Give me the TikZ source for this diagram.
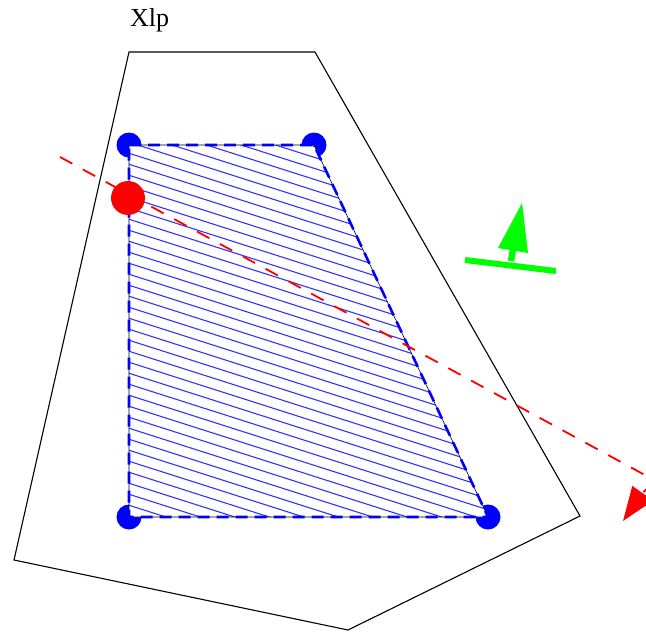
\documentclass[tikz,border=0pt]{standalone}
\usepackage{fontspec}
\setmainfont{Liberation Serif}
\usetikzlibrary{arrows.meta}
\begin{document}
\begin{tikzpicture}[x=1pt,y=-1pt,
  outer/.style={draw=black,line width=1.1pt,line join=miter},
  hatchline/.style={draw=blue!80,line width=1.1pt},
  trapborder/.style={draw=blue,line width=2.6pt,dash pattern=on 12pt off 7pt},
  blueDot/.style={fill=blue},
  redDot/.style={fill=red},
  redpath/.style={draw=red,line width=1.8pt,dash pattern=on 14pt off 12pt},
  greenbar/.style={draw=green,line width=6pt},
]
\useasboundingbox (0,0) rectangle (646,632);
% coordinates
\coordinate (o1) at (129,52);
\coordinate (o2) at (315,52);
\coordinate (o3) at (580,516);
\coordinate (o4) at (348,630);
\coordinate (o5) at (14,560);
\coordinate (t1) at (129,145);
\coordinate (t2) at (314,145);
\coordinate (t3) at (488,517);
\coordinate (t4) at (129,517);
% outer polygon
\draw[outer] (o1) -- (o2) -- (o3) -- (o4) -- (o5) -- cycle;
% label
\node[anchor=base west,inner sep=0pt,font=\fontsize{26}{30}\selectfont] (lbl) at (130,26) {Xlp};
% blue dots
\foreach \p in {t1,t2,t3,t4} \fill[blueDot] (\p) circle (12.5);
% hatched trapezoid
\fill[white] (t1) -- (t2) -- (t3) -- (t4) -- cycle;
\begin{scope}
\clip (t1) -- (t2) -- (t3) -- (t4) -- cycle;
\foreach \c in {-10,1,...,540} \draw[hatchline] (100,\c) -- (520,\c+134);
\end{scope}
\draw[black,line width=0.6pt] (t1) -- (t2) -- (t3) -- (t4) -- cycle;
\draw[trapborder] (t1) -- (t2) -- (t3) -- (t4) -- cycle;
% red dashed path with arrow
\coordinate (rs) at (60,157);
\coordinate (rm) at (700,505);
\coordinate (re) at (623,521);
\draw[redpath,-{Triangle[length=34pt,width=25pt]}] (rs) -- (rm) .. controls (740,527) and (667,459) .. (re);
% red dot
\fill[redDot] (128,198) circle (17);
% green symbol
\draw[greenbar] (465,260) -- (556,271);
\coordinate (gs) at (511,261);
\coordinate (gm) at (514,243);
\draw[green,line width=6.5pt] (gs) -- (gm);
\fill[green] (522,203) -- (498,248) -- (528,253) -- cycle;
\end{tikzpicture}
\end{document}
